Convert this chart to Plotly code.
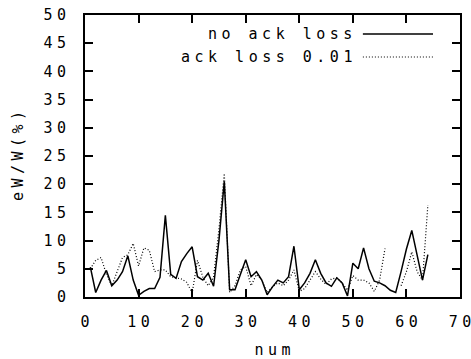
import plotly.graph_objects as go

# sample index
num = list(range(1, 65))

# relative window error eW/W in percent
no_ack_loss = [5.3, 0.8, 3.0, 4.7, 2.0, 3.0, 4.5, 7.3, 3.0, 0.3,
               1.0, 1.5, 1.5, 3.5, 14.5, 4.0, 3.3, 6.3, 7.7, 8.9,
               3.6, 3.0, 4.2, 1.9, 10.0, 20.5, 1.3, 1.3, 4.0, 6.6,
               3.6, 4.5, 3.0, 0.4, 1.8, 3.0, 2.5, 3.6, 9.0, 1.3,
               2.5, 4.2, 6.6, 4.2, 2.5, 1.9, 3.4, 2.5, 0.2, 6.0,
               5.0, 8.7, 5.0, 2.8, 2.5, 2.0, 1.2, 0.8, 4.5, 8.5,
               11.8, 7.5, 3.0, 7.5]

ack_loss_001 = [5.0, 6.5, 7.0, 4.0, 2.0, 4.5, 7.0, 7.5, 9.5, 5.5,
                8.7, 8.3, 4.5, 4.8, 4.8, 3.6, 3.4, 3.2, 2.6, 0.7,
                6.5, 3.5, 2.0, 3.5, 12.0, 21.9, 0.8, 2.0, 4.8, 5.4,
                2.0, 4.0, 3.0, 0.8, 1.8, 2.5, 2.0, 3.0, 4.8, 1.0,
                1.5, 3.0, 4.5, 3.2, 2.2, 3.2, 3.4, 2.5, 1.2, 3.8,
                3.0, 3.0, 2.5, 1.0, 3.0, 8.6, None, None, 2.0, 4.5,
                8.0, 4.5, 3.0, 16.3]

x_ticks = [0, 10, 20, 30, 40, 50, 60, 70]
y_ticks = [0, 5, 10, 15, 20, 25, 30, 35, 40, 45, 50]

series_names = ["no ack loss", "ack loss 0.01"]

FONT = "DejaVu Sans Mono"
DOT = "1px,2px"


def spaced(s):
    # widen the gaps between characters, without trailing space after the last one
    s = str(s)
    if len(s) < 2:
        return s
    return f'<span style="letter-spacing:4.5px">{s[:-1]}</span>{s[-1]}'


fig = go.Figure()
fig.add_trace(go.Scatter(x=num, y=no_ack_loss, mode="lines", name=series_names[0],
                         line=dict(color="black", width=1.5), showlegend=False))
fig.add_trace(go.Scatter(x=num, y=ack_loss_001, mode="lines", name=series_names[1],
                         line=dict(color="black", width=1.2, dash=DOT),
                         connectgaps=False, showlegend=False))

axis_common = dict(
    showgrid=False, zeroline=False, showline=True, linecolor="black", linewidth=2,
    mirror="ticks", ticks="inside", ticklen=8, tickwidth=1.5, tickcolor="black",
    tickfont=dict(family=FONT, size=15, color="black"),
    ticklabeloverflow="allow", automargin=False,
)

fig.update_layout(
    width=471, height=359,
    margin=dict(l=85, r=11, t=15, b=62),
    paper_bgcolor="white", plot_bgcolor="white",
    font=dict(family=FONT, size=15, color="black"),
    xaxis=dict(range=[0, 70], tickvals=x_ticks,
               ticktext=[spaced(t) for t in x_ticks],
               ticklabelstandoff=10,
               title=dict(text=spaced("num"), standoff=17,
                          font=dict(family=FONT, size=15)),
               **axis_common),
    yaxis=dict(range=[0, 50], tickvals=y_ticks,
               ticktext=[spaced(t) for t in y_ticks],
               ticklabelstandoff=14,
               title=dict(text=spaced("eW/W(%)"), standoff=16,
                          font=dict(family=FONT, size=15)),
               **axis_common),
)

# key: label on the left, line sample on the right
key_rows = [(0.933, "solid", 1.5), (0.851, DOT, 1.2)]
for (ky, dash, lw), label in zip(key_rows, series_names):
    fig.add_annotation(xref="paper", yref="paper", x=0.716, y=ky,
                       text=spaced(label), showarrow=False,
                       xanchor="right", yanchor="middle",
                       font=dict(family=FONT, size=15, color="black"))
    fig.add_shape(type="line", xref="paper", yref="paper",
                  x0=0.741, x1=0.928, y0=ky, y1=ky,
                  line=dict(color="black", width=lw, dash=dash))

fig.write_html("out.html")
